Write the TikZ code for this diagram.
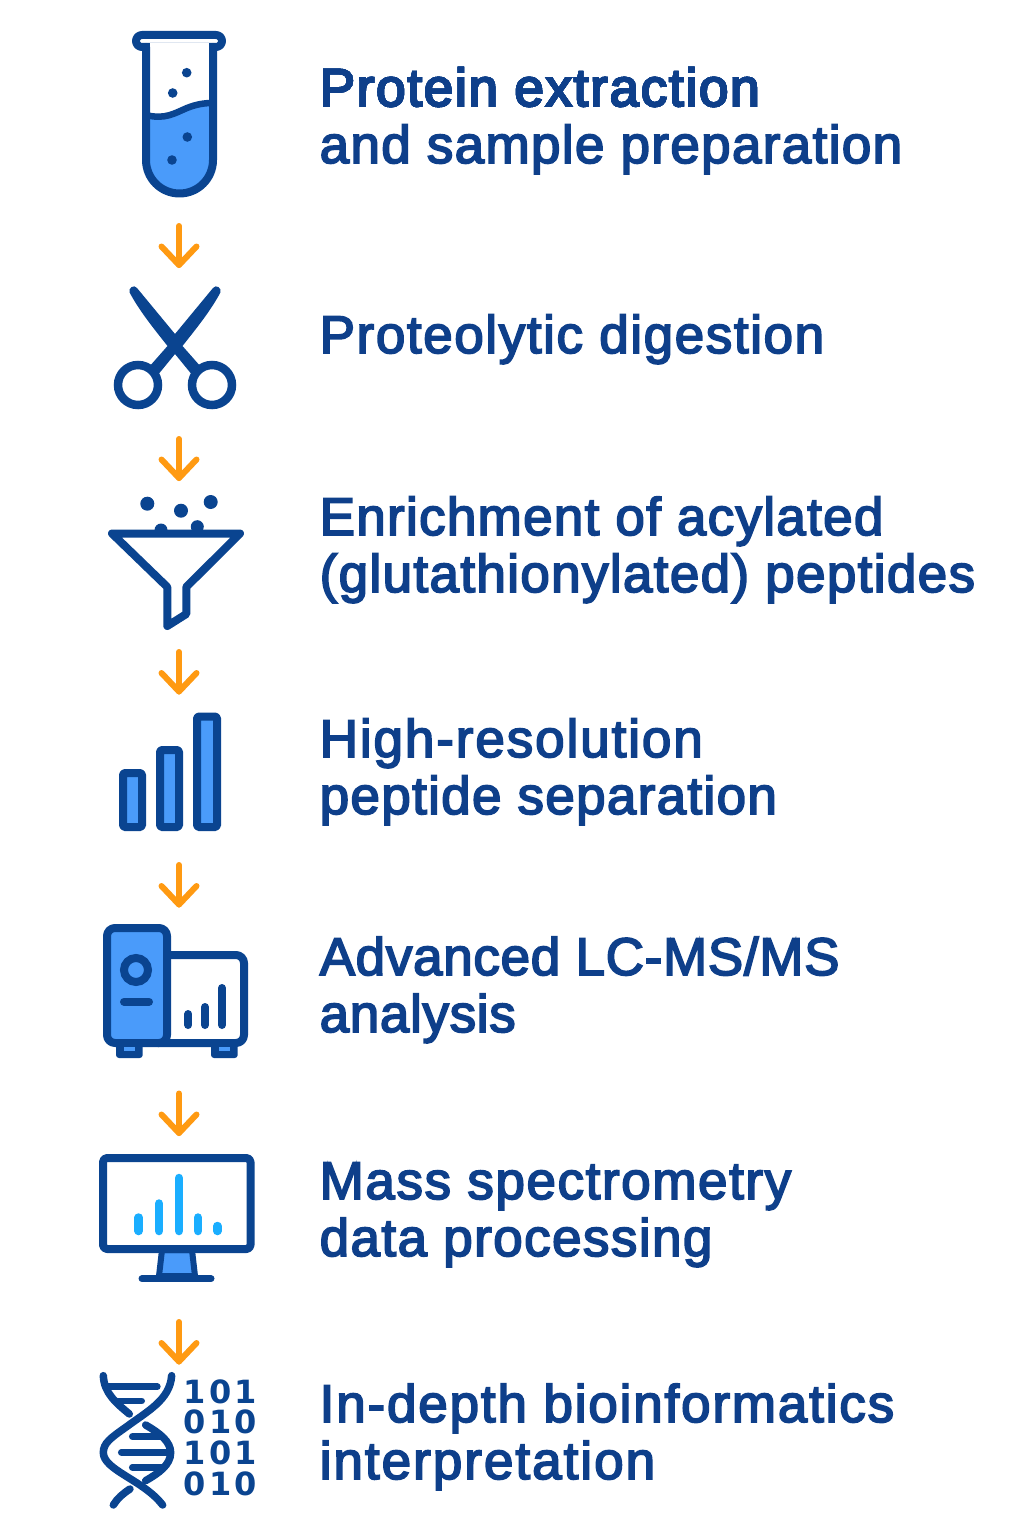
\documentclass[tikz,border=0pt]{standalone}
\usepackage{fontspec}
\setmainfont{Liberation Sans}
\newfontfamily\digitfont{DejaVu Sans}[BoldFont={DejaVu Sans Bold}]
\definecolor{navy}{HTML}{0A4490}
\definecolor{txt}{HTML}{0E3F8A}
\definecolor{fillblue}{HTML}{4A9BFA}
\definecolor{sky}{HTML}{1AAEFF}
\definecolor{orange}{HTML}{FF9A12}
\newcommand{\heavy}[2]{\addfontfeature{LetterSpace=#1}\special{pdf:code q 0.055 0.247 0.541 RG 2 Tr 1.7 w}#2\special{pdf:code Q}}
\tikzset{
 ic/.style={draw=navy,line width=8pt,line join=round,line cap=round},
 arrowline/.style={draw=orange,line width=6pt,line cap=round,line join=round},
 label/.style={anchor=base west,inner sep=0pt,text=txt,font=\fontsize{53}{53}\selectfont},
 digit/.style={anchor=base,inner sep=0pt,text=navy,font=\digitfont\bfseries\fontsize{32}{32}\selectfont},
}
\newcommand{\flowarrow}[2]{%
 \draw[arrowline] (#1) -- (#2);
 \draw[arrowline] ([shift={(-17.5,-18.5)}]#2) -- (#2) -- ([shift={(17.5,-18.5)}]#2);}
\begin{document}
\begin{tikzpicture}[x=1pt,y=-1pt]
\useasboundingbox (0,0) rectangle (1024,1536);
\fill[white] (0,0) rectangle (1024,1536);
% test tube
\fill[fillblue] (146,116) .. controls (165,120) and (175,113) .. (187,108) .. controls (197,104) and (205,103) .. (213,103) -- (213,160) arc (0:180:33.5) -- cycle;
\draw[ic] (142,35) -- (216,35) arc (-90:90:6) -- (142,47) arc (90:270:6) -- cycle;
\fill[white] (150,43) rectangle (209,54);
\draw[ic] (146,47) -- (146,160) arc (180:0:33.5) -- (213,47);
\draw[navy,line width=6.5pt] (146,115) .. controls (165,120) and (175,113) .. (187,108) .. controls (197,104) and (205,103) .. (213,103);
\foreach \p in {(186.7,72.7),(172.7,93),(187.3,137),(172,160)} \fill[navy] \p circle (4.8);
% scissors
\fill[navy,line join=round] (129.6,292.5) .. controls (128,288) and (134,284) .. (137,288) -- (175,334) -- (213,288) .. controls (216,284) and (222,288) .. (220.4,292.5) .. controls (210,312) and (195,330) .. (182.5,346) -- (201,367) -- (193,376) -- (175,354) -- (157,376) -- (149,367) -- (167.5,346) .. controls (155,330) and (140,312) .. (129.6,292.5) -- cycle;
\draw[navy,line width=8.5pt] (138,385) circle (20) (212,385) circle (20);
% funnel
\fill[navy] (147.3,503.7) circle (7) (181,510.7) circle (7) (210.7,502) circle (7) (161,530) circle (6.5) (197.3,526.7) circle (6.5);
\draw[ic,fill=white] (112,533.5) -- (240,533.5) -- (186.3,587) -- (186.3,614) -- (167.3,626) -- (167.3,587) -- cycle;
% bars
\foreach \a/\b/\t in {123/142/773,160/179/750,197/217/716.5}
 \draw[ic,line cap=butt,fill=fillblue,rounded corners=1.5pt] (\a,\t) rectangle (\b,827);
% instrument
\draw[ic,fill=white,rounded corners=8pt] (150,955) -- (244,955) -- (244,1043) -- (150,1043) -- cycle;
\draw[ic,fill=fillblue,rounded corners=8pt] (107,928) rectangle (167,1043);
\draw[navy,line width=8pt,fill=fillblue] (136,970) circle (12);
\draw[navy,line width=8pt,line cap=round] (124,1001.7) -- (149,1001.7);
\foreach \x/\t in {188.3/1014,205/1007,222/988} \draw[navy,line width=8pt,line cap=round] (\x,\t) -- (\x,1025);
\foreach \a/\b in {116/142.7,211/237.7} {
 \fill[navy,rounded corners=3pt] (\a,1040) rectangle (\b,1058);
 \fill[fillblue] (\a+8,1047.3) rectangle (\b-8,1050.7);}
% monitor
\draw[ic,fill=fillblue,line width=6pt] (162,1250) -- (192,1250) -- (195,1276) -- (159,1276) -- cycle;
\draw[ic,fill=white,rounded corners=4pt] (103,1158) rectangle (250.5,1249);
\draw[navy,line width=7pt,line cap=round] (142,1278.7) -- (211,1278.7);
\foreach \x/\t in {138.7/1217.5,159/1203.5,179/1178,198/1217.5,217.3/1226} \draw[sky,line width=8.5pt,line cap=round] (\x,\t) -- (\x,1231);
% DNA
\begin{scope}[shift={(80,1310)},x=0.3333pt,y=-0.3333pt,line cap=round,line width=7.5pt]
\draw[navy] (70,197) .. controls (72,250) and (110,280) .. (148,312);
\draw[navy] (275,197) .. controls (270,270) and (200,305) .. (140,350) .. controls (90,385) and (70,400) .. (70,428) .. controls (70,480) and (190,510) .. (248,585);
\draw[navy] (197,345) .. controls (240,370) and (272,395) .. (272,428) .. controls (272,465) and (235,490) .. (197,512);
\draw[navy] (100,585) .. controls (112,565) and (130,550) .. (150,537);
\foreach \a/\b/\y in {85/232/230,112/185/273,157/245/380,124/268/427,157/245/472} \draw[navy,line width=6.7pt] (\a,\y) -- (\b,\y);
\end{scope}
\foreach \y/\a/\b/\c in {1403.7/1/0/1,1433.7/0/1/0,1464.3/1/0/1,1495/0/1/0} {
 \node[digit] at (195,\y) {\a};
 \node[digit] at (220.5,\y) {\b};
 \node[digit] at (246,\y) {\c};
}
% arrows
\coordinate (a1s) at (179,226); \coordinate (a1e) at (179,265);
\coordinate (a2s) at (179,439); \coordinate (a2e) at (179,478);
\coordinate (a3s) at (179,652); \coordinate (a3e) at (179,691.5);
\coordinate (a4s) at (179,865); \coordinate (a4e) at (179,904.5);
\coordinate (a5s) at (179,1093.5); \coordinate (a5e) at (179,1133);
\coordinate (a6s) at (179,1322); \coordinate (a6e) at (179,1361.5);
\foreach \i in {1,...,6} \flowarrow{a\i s}{a\i e}
% labels
\node[label] (t1a) at (319.5,106) {\heavy{3.25}{Protein extraction}};
\node[label] (t1b) at (319.5,163) {\heavy{2.55}{and sample preparation}};
\node[label] (t2) at (319.5,353) {\heavy{3.0}{Proteolytic digestion}};
\node[label] (t3a) at (319.5,535) {\heavy{2.45}{Enrichment of acylated}};
\node[label] (t3b) at (319.5,592) {\heavy{2.55}{(glutathionylated) peptides}};
\node[label] (t4a) at (319.5,757) {\heavy{3.6}{High-resolution}};
\node[label] (t4b) at (319.5,814) {\heavy{2.5}{peptide separation}};
\node[label] (t5a) at (319.5,975) {\heavy{1.3}{Advanced LC-MS/MS}};
\node[label] (t5b) at (319.5,1032) {\heavy{1.25}{analysis}};
\node[label] (t6a) at (319.5,1199) {\heavy{3.0}{Mass spectrometry}};
\node[label] (t6b) at (319.5,1256) {\heavy{2.7}{data processing}};
\node[label] (t7a) at (319.5,1422) {\heavy{3.45}{In-depth bioinformatics}};
\node[label] (t7b) at (319.5,1479) {\heavy{3.8}{interpretation}};
\end{tikzpicture}
\end{document}
